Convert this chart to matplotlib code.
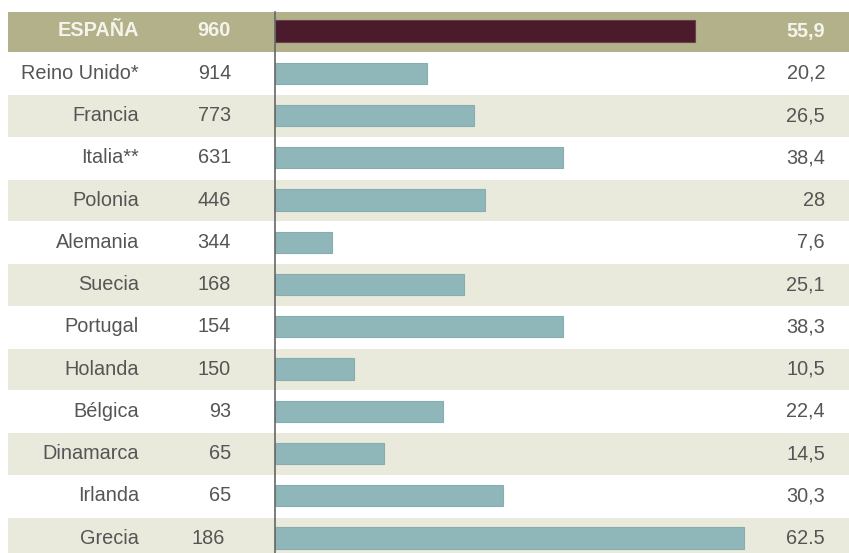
import matplotlib
matplotlib.use("Agg")
import matplotlib.pyplot as plt
import matplotlib.transforms as mtrans

countries = ["ESPAÑA", "Reino Unido*", "Francia", "Italia**", "Polonia", "Alemania",
             "Suecia", "Portugal", "Holanda", "Bélgica", "Dinamarca", "Irlanda", "Grecia"]
counts = [960, 914, 773, 631, 446, 344, 168, 154, 150, 93, 65, 65, 186]
values = [55.9, 20.2, 26.5, 38.4, 28, 7.6, 25.1, 38.3, 10.5, 22.4, 14.5, 30.3, 62.5]
value_labels = ["55,9", "20,2", "26,5", "38,4", "28", "7,6", "25,1", "38,3", "10,5",
                "22,4", "14,5", "30,3", "62.5"]

W, H = 849, 553
fig = plt.figure(figsize=(W / 100, H / 100), dpi=100)
ax = fig.add_axes([0, 0, 1, 1])

px_per_unit = 7.51
x0 = 275
ax.set_xlim(-x0 / px_per_unit, (W - x0) / px_per_unit)
row_h = 42.25
c0 = 31
ax.set_ylim((H - c0) / row_h, -c0 / row_h)
ax.axis("off")

header_bg = "#b2b18a"
band_bg = "#e9eadb"
teal = "#8fb6b8"
maroon = "#4b1a2b"
txt = "#555555"

n = len(countries)
for i in range(n):
    if i == 0:
        ax.axhspan(-19 / row_h, 21 / row_h, xmin=8 / W, xmax=1, color=header_bg, lw=0, zorder=0)
    elif i % 2 == 0:
        ax.axhspan(i - 0.5 + 0.02, i + 0.5, xmin=8 / W, xmax=1, color=band_bg, lw=0, zorder=0)

colors = [maroon] + [teal] * (n - 1)
ax.barh(range(n), values, left=0, height=0.5, color=colors,
        edgecolor=["#6a4050"] + ["#86aeb0"] * (n - 1), linewidth=0.8, zorder=2)

ax.plot([0, 0], [-19 / row_h, (H - c0) / row_h], color="#666666", lw=1.2, zorder=3)

tr = mtrans.blended_transform_factory(ax.transAxes, ax.transData)
font = "Liberation Sans"
fs = 14.3
for i in range(n):
    if i == 0:
        kw = dict(color="#f4f4ec", fontweight="bold")
    else:
        kw = dict(color=txt)
    ax.text(139 / W, i, countries[i], ha="right", va="center", fontsize=fs,
            family=font, transform=tr, **kw)
    cx = 231 / W if i < n - 1 else 225 / W
    ax.text(cx, i, str(counts[i]), ha="right", va="center", fontsize=fs,
            family=font, transform=tr, **kw)
    ax.text(825 / W, i, value_labels[i], ha="right", va="center", fontsize=fs,
            family=font, transform=tr, **kw)

fig.savefig("out.png", dpi=100)
